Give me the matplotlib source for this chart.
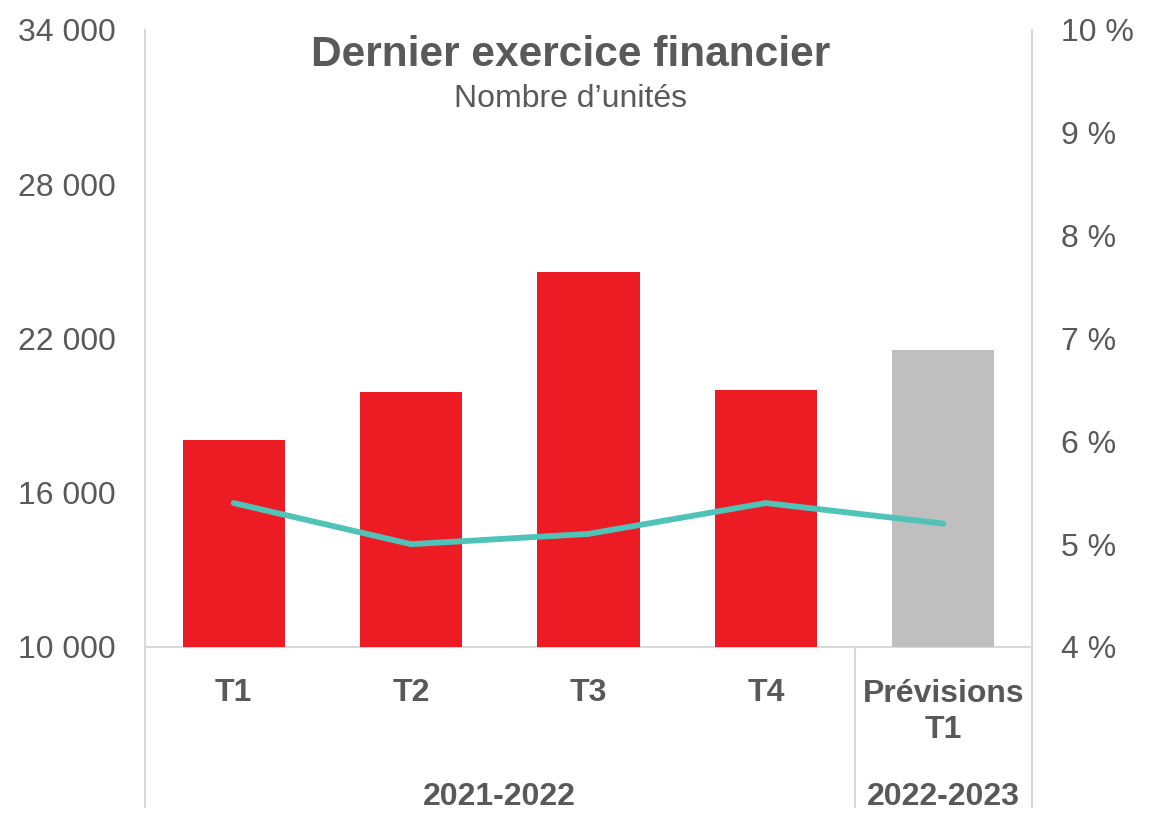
import matplotlib.pyplot as plt
from matplotlib.ticker import FuncFormatter

# Données
categories = ["T1", "T2", "T3", "T4", "Prévisions\nT1"]
unites = [18050, 19900, 24600, 20000, 21550]
taux = [5.4, 5.0, 5.1, 5.4, 5.2]
couleurs = ["#ED1C24", "#ED1C24", "#ED1C24", "#ED1C24", "#BFBFBF"]
groupes = ["2021-2022", "2022-2023"]
yticks_g = [10000, 16000, 22000, 28000, 34000]
yticks_d = [4, 5, 6, 7, 8, 9, 10]

plt.rcParams["font.family"] = ["Liberation Sans", "DejaVu Sans"]
gris_txt = "#595959"
gris_ligne = "#D9D9D9"
tam_font = 23

fig = plt.figure(figsize=(11.6, 8.15), dpi=100)
ax = fig.add_axes([145 / 1160, 1 - 647 / 815, (1032 - 145) / 1160, (647 - 30) / 815])
ax2 = ax.twinx()

x = list(range(len(categories)))
ax.bar(x, unites, width=0.575, color=couleurs, zorder=2)
ax.set_xlim(-0.5, len(categories) - 0.5)
ax.set_ylim(10000, 34000)
ax.set_yticks(yticks_g)
ax.yaxis.set_major_formatter(FuncFormatter(lambda v, _: f"{int(v):,}".replace(",", " ")))

ax2.plot(x, taux, color="#4FC3B8", linewidth=4.2, solid_capstyle="round",
         solid_joinstyle="round", zorder=3)
ax2.set_ylim(4, 10)
ax2.set_yticks(yticks_d)
ax2.yaxis.set_major_formatter(FuncFormatter(lambda v, _: f"{int(v)} %"))

for a in (ax, ax2):
    for s in a.spines.values():
        s.set_visible(False)
    a.tick_params(axis="y", length=0, labelsize=tam_font, labelcolor=gris_txt, pad=21)
ax.tick_params(axis="x", length=0, labelbottom=False)

# Lignes du cadre et séparateurs
kw = dict(transform=ax.transAxes, color=gris_ligne, linewidth=1.5, clip_on=False, zorder=1)
bas = -(807 - 647) / 617
ax.plot([0, 0], [bas, 1], **kw)
ax.plot([1, 1], [bas, 1], **kw)
ax.plot([0, 1], [0, 0], **kw)
x_sep = (855 - 145) / 887
ax.plot([x_sep, x_sep], [bas, 0], **kw)

# Étiquettes des catégories
trans = ax.get_xaxis_transform()
for xi, cat in zip(x, categories):
    if "\n" in cat:
        y_txt, va = -(679 - 647) / 617, "top"
    else:
        y_txt, va = -(693 - 647) / 617, "center"
    ax.text(xi, y_txt, cat, transform=trans, ha="center", va=va,
            fontsize=tam_font, fontweight="bold", color=gris_txt, linespacing=1.27)

ax.text(1.5, -(797 - 647) / 617, groupes[0], transform=trans,
        ha="center", va="center", fontsize=tam_font, fontweight="bold", color=gris_txt)
ax.text(4, -(797 - 647) / 617, groupes[1], transform=trans,
        ha="center", va="center", fontsize=tam_font, fontweight="bold", color=gris_txt)

# Titre
fig.text(571 / 1160, 1 - 55 / 815, "Dernier exercice financier", ha="center", va="center",
         fontsize=30.6, fontweight="bold", color=gris_txt)
fig.text(571 / 1160, 1 - 99 / 815, "Nombre d’unités", ha="center", va="center",
         fontsize=23, color=gris_txt)

plt.savefig("out.png", dpi=100)
